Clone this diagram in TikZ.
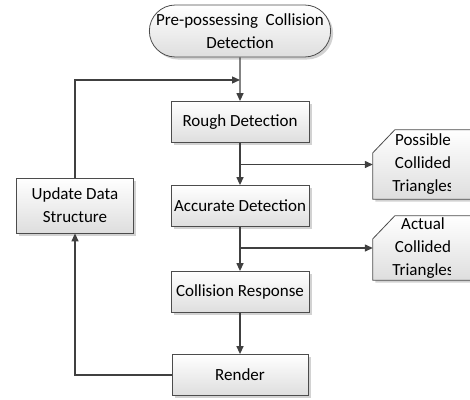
\documentclass[tikz,border=0pt]{standalone}
\usepackage{fontspec}
\setmainfont{Carlito}
\usetikzlibrary{arrows.meta,shapes.misc,shadows}

\tikzset{
	boxfill/.style={draw=black!70, line width=0.8pt, top color=white, bottom color=black!13,
		drop shadow={shadow xshift=2.5pt, shadow yshift=-2.5pt, fill=black!35, opacity=0.5}},
	boxtext/.style={font=\fontsize{17}{23}\selectfont, align=center, inner sep=0pt},
	procbox/.style={boxfill, boxtext, rectangle, minimum width=138pt, minimum height=41pt},
	cutarea/.style={rectangle, inner sep=0pt, minimum width=100pt},
	flowline/.style={draw=black!75, line width=1.3pt, -{Triangle[length=8pt,width=7pt]}},
}

\begin{document}
\begin{tikzpicture}[x=1pt, y=-1pt]
		%%%%% START %%%%%
		
		\useasboundingbox (0, 0) rectangle (470, 399);
		\clip (0, 0) rectangle (470, 399);
		
		\node[boxfill, boxtext, rounded rectangle, minimum width=177pt, minimum height=52pt] (term) at (240, 31) {Pre-possessing\ \ Collision\\Detection};
		
		\node[procbox] (rough) at (240, 122) {Rough Detection};
		\node[procbox] (accurate) at (240, 206) {Accurate Detection};
		\node[procbox] (response) at (240, 292) {Collision Response};
		\node[procbox, minimum width=136pt] (render) at (240, 375) {Render};
		
		\node[procbox, minimum width=117pt, minimum height=55pt] (update) at (75, 205.5) {Update Data\\Structure};
		
		\node[cutarea, minimum height=69pt] (possible) at (423, 164.5) {};
		\node[cutarea, minimum height=64pt] (actual) at (423, 248) {};
		
		\path[boxfill] (possible.north west) ++(0, 23) -- ++(22, -23) -- (possible.north east)
			-- (possible.south east) -- (possible.south west) -- cycle;
		\path[boxfill] (actual.north west) ++(0, 23) -- ++(22, -23) -- (actual.north east)
			-- (actual.south east) -- (actual.south west) -- cycle;
		
		\begin{scope}
			\clip (373, 100) rectangle (450, 300);
			\node[boxtext] (possibletext) at (possible.center) {Possible\\Collided\\Triangles};
			\node[boxtext] (actualtext) at (actual.center) {Actual\\Collided\\Triangles};
		\end{scope}
		
		\coordinate (merge) at (240, 80);
		
		\draw[flowline] (term) -- (rough);
		\draw[flowline] (rough) -- (accurate);
		\draw[flowline] (accurate) -- (response);
		\draw[flowline] (response) -- (render);
		
		\draw[flowline] (rough.south |- possible.west) -- (possible.west);
		\draw[flowline] (accurate.south |- actual.west) -- (actual.west);
		
		\draw[flowline] (render.west) -| (update.south);
		\draw[flowline] (update.north) |- (merge);
		
		%%%%% END %%%%%
	\end{tikzpicture}
\end{document}
